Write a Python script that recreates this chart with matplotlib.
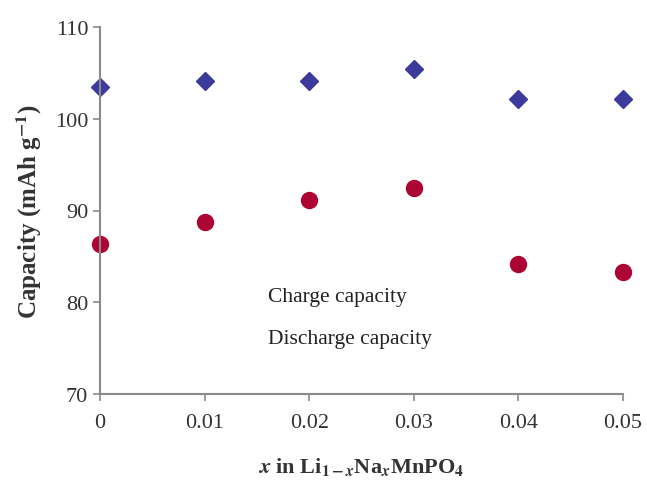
import matplotlib as mpl; mpl.use('agg')
import matplotlib.pyplot as plt

# data
x_na = [0, 0.01, 0.02, 0.03, 0.04, 0.05]
charge_cap = [103.5, 104.1, 104.1, 105.4, 102.2, 102.2]
discharge_cap = [86.3, 88.8, 91.1, 92.4, 84.2, 83.3]
x_ticks = [0, 0.01, 0.02, 0.03, 0.04, 0.05]
x_tick_labels = ['0', '0.01', '0.02', '0.03', '0.04', '0.05']
y_ticks = [70, 80, 90, 100, 110]

plt.rcParams['font.family'] = ['Liberation Serif', 'DejaVu Serif']
plt.rcParams['mathtext.fontset'] = 'stix'

fig = plt.figure(figsize=(6.47, 4.81), dpi=100)
ax = fig.add_axes([100/647, 1-395/481, 523/647, 367/481])

ax.plot(x_na, charge_cap, linestyle='none', marker='D', ms=9,
        color='#3c3a9a', label='Charge capacity', clip_on=False)
ax.plot(x_na, discharge_cap, linestyle='none', marker='o', ms=11.5,
        color='#ad0533', label='Discharge capacity', clip_on=False)

ax.set_xlim(0, 0.05)
ax.set_ylim(70, 110)
ax.set_xticks(x_ticks)
ax.set_xticklabels(x_tick_labels)
ax.set_yticks(y_ticks)

# axes styling
for side in ['top', 'right']:
    ax.spines[side].set_visible(False)
for side in ['left', 'bottom']:
    ax.spines[side].set_color('#8a8a8a')
    ax.spines[side].set_linewidth(1.5)
ax.tick_params(colors='#8a8a8a', length=5, width=1.2, labelsize=16,
               labelcolor='#333333')
ax.tick_params(axis='x', pad=9)

ax.set_ylabel(r'Capacity (mAh g$^{\mathbf{-1}}$)', fontsize=18,
              fontweight='bold', color='#333333', labelpad=8)
ax.set_xlabel(r'$\mathbfit{x}$ in Li$_{\mathbf{1-}\mathbfit{x}}$Na$_{\mathbfit{x}}$MnPO$_{\mathbf{4}}$',
              fontsize=16, fontweight='bold', color='#333333', labelpad=16)

# legend: text only, markers not shown in the reference
leg = ax.legend(loc='center left', bbox_to_anchor=(268/647, 1-318/481),
                bbox_transform=fig.transFigure, frameon=False, fontsize=15.5,
                handlelength=0, handletextpad=0, borderpad=0,
                borderaxespad=0, labelspacing=1.05)
for h in leg.legend_handles:
    h.set_visible(False)
for t in leg.get_texts():
    t.set_color('#222222')

fig.savefig('out.png', dpi=100)
